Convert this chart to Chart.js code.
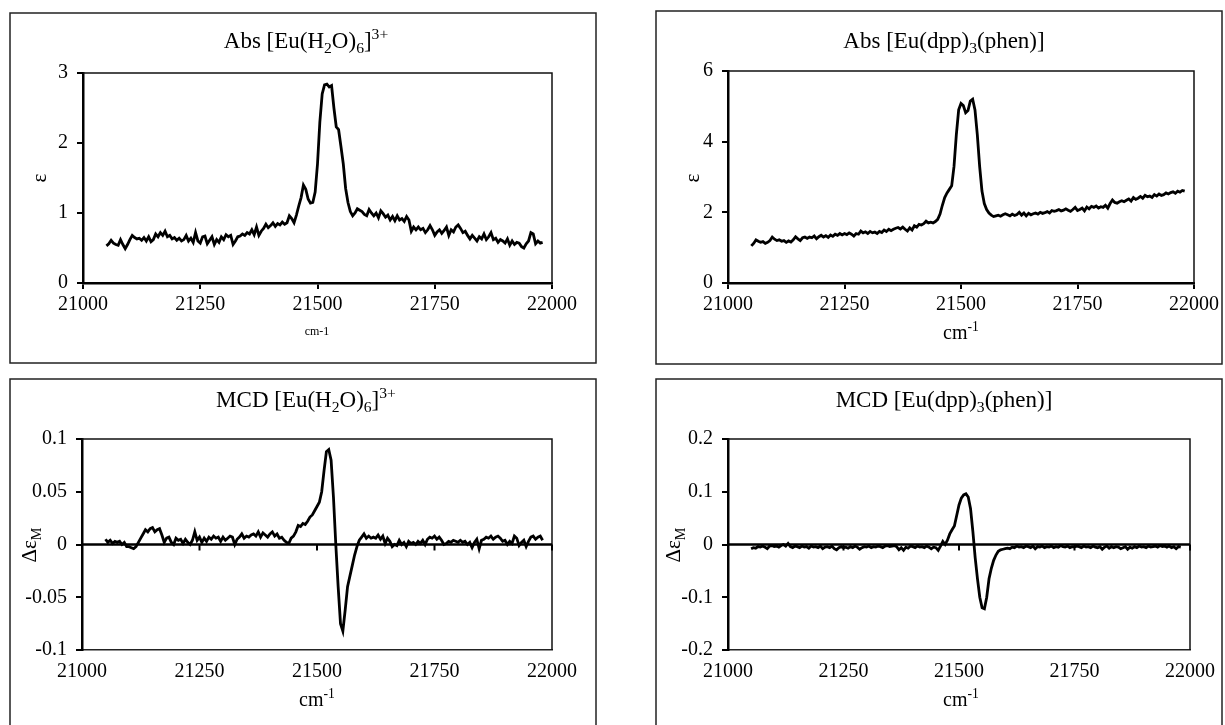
<!DOCTYPE html>
<html>
<head>
<meta charset="utf-8">
<script src="https://cdn.jsdelivr.net/npm/chart.js@4.4.1/dist/chart.umd.min.js"></script>
<style>
  html, body { margin: 0; padding: 0; background: #fff; }
  body { width: 1225px; height: 725px; position: relative; overflow: hidden; }
  canvas { position: absolute; left: 0; top: 0; }
</style>
</head>
<body>
<canvas id="absAquaChart" width="1225" height="725"></canvas>
<canvas id="absDppChart" width="1225" height="725"></canvas>
<canvas id="mcdAquaChart" width="1225" height="725"></canvas>
<canvas id="mcdDppChart" width="1225" height="725"></canvas>
<script>
"use strict";

// wavenumber (cm-1), shared by all four spectra
const wavenumbers = [
  21050, 21055, 21060, 21065, 21070, 21075, 21080, 21085, 21090, 21095,
  21100, 21105, 21110, 21115, 21120, 21125, 21130, 21135, 21140, 21145,
  21150, 21155, 21160, 21165, 21170, 21175, 21180, 21185, 21190, 21195,
  21200, 21205, 21210, 21215, 21220, 21225, 21230, 21235, 21240, 21245,
  21250, 21255, 21260, 21265, 21270, 21275, 21280, 21285, 21290, 21295,
  21300, 21305, 21310, 21315, 21320, 21325, 21330, 21335, 21340, 21345,
  21350, 21355, 21360, 21365, 21370, 21375, 21380, 21385, 21390, 21395,
  21400, 21405, 21410, 21415, 21420, 21425, 21430, 21435, 21440, 21445,
  21450, 21455, 21460, 21465, 21470, 21475, 21480, 21485, 21490, 21495,
  21500, 21505, 21510, 21515, 21520, 21525, 21530, 21535, 21540, 21545,
  21550, 21555, 21560, 21565, 21570, 21575, 21580, 21585, 21590, 21595,
  21600, 21605, 21610, 21615, 21620, 21625, 21630, 21635, 21640, 21645,
  21650, 21655, 21660, 21665, 21670, 21675, 21680, 21685, 21690, 21695,
  21700, 21705, 21710, 21715, 21720, 21725, 21730, 21735, 21740, 21745,
  21750, 21755, 21760, 21765, 21770, 21775, 21780, 21785, 21790, 21795,
  21800, 21805, 21810, 21815, 21820, 21825, 21830, 21835, 21840, 21845,
  21850, 21855, 21860, 21865, 21870, 21875, 21880, 21885, 21890, 21895,
  21900, 21905, 21910, 21915, 21920, 21925, 21930, 21935, 21940, 21945,
  21950, 21955, 21960, 21965, 21970, 21975, 21980
];

// Abs [Eu(H2O)6]3+  (epsilon)
const absAqua = [
  0.53, 0.56, 0.61, 0.57, 0.55, 0.54, 0.62, 0.55, 0.49, 0.55,
  0.62, 0.68, 0.65, 0.63, 0.64, 0.61, 0.65, 0.60, 0.66, 0.59,
  0.62, 0.70, 0.66, 0.72, 0.68, 0.74, 0.66, 0.68, 0.63, 0.65,
  0.61, 0.64, 0.60, 0.62, 0.68, 0.60, 0.64, 0.58, 0.72, 0.60,
  0.57, 0.66, 0.67, 0.56, 0.61, 0.66, 0.55, 0.62, 0.58, 0.66,
  0.62, 0.69, 0.66, 0.68, 0.55, 0.60, 0.66, 0.67, 0.70, 0.68,
  0.72, 0.70, 0.76, 0.69, 0.80, 0.68, 0.74, 0.78, 0.84, 0.79,
  0.82, 0.86, 0.81, 0.85, 0.83, 0.87, 0.84, 0.86, 0.96, 0.92,
  0.86, 0.97, 1.10, 1.22, 1.40, 1.34, 1.20, 1.14, 1.15, 1.30,
  1.70, 2.30, 2.70, 2.83, 2.84, 2.80, 2.82, 2.50, 2.23, 2.19,
  1.95, 1.70, 1.35, 1.15, 1.02, 0.96, 1.00, 1.06, 1.04, 1.02,
  0.98, 0.96, 1.05, 1.00, 0.96, 1.00, 0.93, 1.03, 0.99, 0.94,
  0.97, 0.90, 0.95, 0.89, 0.96, 0.90, 0.92, 0.88, 0.95, 0.90,
  0.74, 0.80, 0.76, 0.80, 0.76, 0.78, 0.72, 0.76, 0.82, 0.76,
  0.68, 0.73, 0.76, 0.71, 0.75, 0.80, 0.68, 0.76, 0.73, 0.80,
  0.83, 0.78, 0.72, 0.74, 0.68, 0.63, 0.68, 0.64, 0.60, 0.66,
  0.63, 0.70, 0.62, 0.66, 0.72, 0.62, 0.64, 0.58, 0.62, 0.60,
  0.57, 0.63, 0.54, 0.60, 0.55, 0.58, 0.57, 0.52, 0.50, 0.56,
  0.60, 0.72, 0.70, 0.56, 0.60, 0.57, 0.58
];

// Abs [Eu(dpp)3(phen)]  (epsilon)
const absDpp = [
  1.05, 1.12, 1.22, 1.18, 1.15, 1.17, 1.12, 1.15, 1.20, 1.30,
  1.24, 1.20, 1.22, 1.18, 1.20, 1.15, 1.19, 1.16, 1.22, 1.31,
  1.25, 1.20, 1.28, 1.30, 1.26, 1.30, 1.28, 1.33, 1.25, 1.31,
  1.35, 1.30, 1.34, 1.29, 1.36, 1.32, 1.38, 1.35, 1.40, 1.36,
  1.40, 1.37, 1.42, 1.38, 1.33, 1.40, 1.38, 1.47, 1.42, 1.45,
  1.40, 1.46, 1.42, 1.44, 1.40, 1.46, 1.43, 1.50, 1.46, 1.52,
  1.48, 1.52, 1.55, 1.57, 1.53, 1.58, 1.52, 1.47, 1.56, 1.50,
  1.62, 1.58, 1.66, 1.64, 1.68, 1.75, 1.70, 1.72, 1.70, 1.74,
  1.80, 1.95, 2.20, 2.42, 2.55, 2.65, 2.75, 3.30, 4.20, 4.90,
  5.08, 5.02, 4.82, 4.88, 5.15, 5.20, 4.90, 4.20, 3.30, 2.60,
  2.25, 2.08, 1.98, 1.92, 1.88, 1.90, 1.92, 1.89, 1.93, 1.96,
  1.93, 1.90, 1.95, 1.91, 1.94, 2.00, 1.92, 1.98, 1.90, 1.97,
  1.93, 1.96, 1.98, 1.95, 2.00, 1.97, 1.99, 2.02, 1.98, 2.05,
  2.03, 2.05, 2.08, 2.04, 2.06, 2.10, 2.06, 2.03, 2.08, 2.14,
  2.05, 2.08, 2.12, 2.04, 2.15, 2.10, 2.17, 2.14, 2.18, 2.12,
  2.16, 2.14, 2.20, 2.12, 2.25, 2.35, 2.28, 2.26, 2.30, 2.33,
  2.30, 2.34, 2.38, 2.32, 2.42, 2.37, 2.40, 2.45, 2.40, 2.48,
  2.44, 2.46, 2.42, 2.50, 2.46, 2.52, 2.48, 2.50, 2.55, 2.52,
  2.56, 2.58, 2.54, 2.60, 2.57, 2.62, 2.60
];

// MCD [Eu(H2O)6]3+  (delta epsilon M)
const mcdAqua = [
  0.005, 0.002, 0.004, 0.001, 0.003, 0.002, 0.003, 0.000, 0.002, -0.002,
  -0.002, -0.003, -0.004, -0.002, 0.002, 0.006, 0.010, 0.014, 0.012, 0.015,
  0.016, 0.012, 0.014, 0.015, 0.009, 0.002, 0.006, 0.007, 0.002, 0.000,
  0.006, 0.004, 0.005, 0.001, 0.005, 0.002, 0.000, 0.004, 0.012, 0.004,
  0.007, 0.002, 0.006, 0.003, 0.007, 0.005, 0.008, 0.006, 0.007, 0.003,
  0.007, 0.004, 0.006, 0.008, 0.007, 0.000, 0.005, 0.007, 0.010, 0.006,
  0.008, 0.007, 0.009, 0.010, 0.008, 0.012, 0.007, 0.011, 0.009, 0.007,
  0.010, 0.012, 0.008, 0.010, 0.006, 0.007, 0.004, 0.002, 0.001, 0.006,
  0.008, 0.012, 0.018, 0.017, 0.020, 0.019, 0.022, 0.026, 0.028, 0.032,
  0.036, 0.040, 0.050, 0.070, 0.088, 0.090, 0.080, 0.045, 0.000, -0.040,
  -0.075, -0.082, -0.062, -0.040, -0.030, -0.020, -0.010, -0.002, 0.004, 0.007,
  0.010, 0.006, 0.008, 0.006, 0.007, 0.006, 0.009, 0.005, 0.008, 0.001,
  0.006, 0.003, -0.002, 0.000, -0.001, 0.004, 0.000, 0.002, -0.002, 0.003,
  0.001, 0.002, 0.000, 0.003, 0.001, 0.004, 0.000, 0.005, 0.007, 0.006,
  0.008, 0.005, 0.007, 0.004, 0.000, 0.001, 0.003, 0.002, 0.004, 0.003,
  0.002, 0.004, 0.002, 0.003, 0.000, 0.002, -0.003, 0.002, 0.005, -0.004,
  0.004, 0.005, 0.007, 0.006, 0.008, 0.005, 0.007, 0.008, 0.006, 0.003,
  0.004, 0.000, 0.003, 0.001, 0.008, 0.006, -0.001, 0.002, 0.004, -0.002,
  0.003, 0.007, 0.008, 0.005, 0.007, 0.008, 0.004
];

// MCD [Eu(dpp)3(phen)]  (delta epsilon M)
const mcdDpp = [
  -0.008, -0.006, -0.007, -0.004, -0.005, -0.003, -0.005, -0.008, -0.003, -0.002,
  -0.004, -0.003, -0.005, -0.002, 0.000, -0.003, 0.002, -0.004, -0.006, -0.003,
  -0.004, -0.006, -0.003, -0.005, -0.004, -0.007, -0.003, -0.005, -0.004, -0.006,
  -0.003, -0.008, -0.005, -0.004, -0.006, -0.003, -0.008, -0.010, -0.006, -0.004,
  -0.006, -0.005, -0.007, -0.004, -0.006, -0.003, -0.005, -0.009, -0.006, -0.004,
  -0.005, -0.003, -0.006, -0.004, -0.005, -0.003, -0.004, -0.006, -0.003, -0.002,
  -0.004, -0.003, -0.002, -0.004, -0.010, -0.006, -0.011, -0.005, -0.007, -0.003,
  -0.004, -0.006, -0.003, -0.005, -0.004, -0.006, -0.003, -0.005, -0.008, -0.005,
  -0.006, -0.011, -0.003, 0.006, 0.000, 0.008, 0.020, 0.028, 0.035, 0.055,
  0.075, 0.088, 0.094, 0.096, 0.090, 0.068, 0.025, -0.025, -0.065, -0.100,
  -0.120, -0.122, -0.100, -0.065, -0.045, -0.030, -0.020, -0.013, -0.010, -0.009,
  -0.008, -0.007, -0.008, -0.005, -0.006, -0.003, -0.005, -0.004, -0.006, -0.003,
  -0.004, -0.006, -0.003, -0.008, -0.004, -0.005, -0.003, -0.006, -0.004, -0.005,
  -0.003, -0.006, -0.004, -0.005, -0.002, -0.004, -0.005, -0.003, -0.006, -0.004,
  -0.005, -0.003, -0.004, -0.006, -0.003, -0.005, -0.004, -0.006, -0.003, -0.005,
  -0.006, -0.004, -0.009, -0.005, -0.003, -0.007, -0.004, -0.006, -0.004, -0.005,
  -0.008, -0.006, -0.004, -0.009, -0.005, -0.007, -0.004, -0.006, -0.003, -0.005,
  -0.004, -0.006, -0.003, -0.005, -0.004, -0.003, -0.005, -0.002, -0.004, -0.003,
  -0.005, -0.003, -0.006, -0.004, -0.008, -0.004, -0.005
];

const xTicks = [21000, 21250, 21500, 21750, 22000];
const absAquaTicks = [0, 1, 2, 3];
const absDppTicks = [0, 2, 4, 6];
const mcdAquaTicks = [-0.1, -0.05, 0, 0.05, 0.1];
const mcdDppTicks = [-0.2, -0.1, 0, 0.1, 0.2];

// text pieces: [text, 0 normal | -1 subscript | 1 superscript]
const absAquaTitle = [["Abs [Eu(H", 0], ["2", -1], ["O)", 0], ["6", -1], ["]", 0], ["3+", 1]];
const absDppTitle = [["Abs [Eu(dpp)", 0], ["3", -1], ["(phen)]", 0]];
const mcdAquaTitle = [["MCD [Eu(H", 0], ["2", -1], ["O)", 0], ["6", -1], ["]", 0], ["3+", 1]];
const mcdDppTitle = [["MCD [Eu(dpp)", 0], ["3", -1], ["(phen)]", 0]];
const epsLabel = [["\u03b5", 0]];
const dEpsLabel = [["\u0394\u03b5", 0], ["M", -1]];
const cmPlain = [["cm-1", 0]];
const cmSup = [["cm", 0], ["-1", 1]];

const FONT = '"Liberation Serif", "Times New Roman", serif';

const drawRich = function (ctx, parts, x, y, size, rotate) {
  const fontFor = (s) => (s ? size * 0.68 : size) + "px " + FONT;
  ctx.save();
  ctx.translate(x, y);
  if (rotate) ctx.rotate(-Math.PI / 2);
  let w = 0;
  parts.forEach((p) => {
    ctx.font = fontFor(p[1]);
    w += ctx.measureText(p[0]).width;
  });
  let cx = -w / 2;
  ctx.fillStyle = "#000";
  ctx.textAlign = "left";
  ctx.textBaseline = "alphabetic";
  parts.forEach((p) => {
    ctx.font = fontFor(p[1]);
    const dy = p[1] === -1 ? size * 0.22 : p[1] === 1 ? -size * 0.38 : 0;
    ctx.fillText(p[0], cx, dy);
    cx += ctx.measureText(p[0]).width;
  });
  ctx.restore();
};

const makePanel = function (id, series, yTicks, p) {
  const mcd = p.zeroLine;
  new Chart(id, {
    type: "line",
    data: {
      datasets: [
        {
          data: wavenumbers.map((x, i) => ({ x: x, y: series[i] })),
          borderColor: "#000",
          borderWidth: 2.8,
          pointRadius: 0,
          tension: 0,
          fill: false,
        },
      ],
    },
    options: {
      responsive: false,
      animation: false,
      events: [],
      layout: {
        padding: {
          left: p.plot[0] - 60,
          top: p.plot[1],
          right: 1225 - p.plot[2],
          bottom: 725 - p.plot[3] - 40,
        },
      },
      plugins: {
        legend: { display: false },
        tooltip: { enabled: false },
      },
      scales: {
        x: {
          type: "linear",
          min: 21000,
          max: 22000,
          afterBuildTicks: (s) => {
            s.ticks = xTicks.map((v) => ({ value: v }));
          },
          afterFit: (s) => {
            s.height = 40;
          },
          ticks: {
            color: "#000",
            font: { family: FONT, size: 20 },
            padding: mcd ? 10 : 4,
            maxRotation: 0,
            callback: (v) => String(v),
          },
          grid: mcd
            ? { display: false, drawTicks: false }
            : { drawOnChartArea: false, drawTicks: true, tickLength: 6, color: "#000", lineWidth: 2 },
          border: mcd
            ? { display: true, width: 1.5, color: "#222" }
            : { display: true, width: 2.5, color: "#000" },
        },
        y: {
          min: yTicks[0],
          max: yTicks[yTicks.length - 1],
          afterBuildTicks: (s) => {
            s.ticks = yTicks.map((v) => ({ value: v }));
          },
          afterFit: (s) => {
            s.width = 60;
          },
          ticks: {
            color: "#000",
            font: { family: FONT, size: 20 },
            padding: 9,
            callback: (v) => String(Number(v.toFixed(3))),
          },
          grid: { drawOnChartArea: false, drawTicks: true, tickLength: 6, color: "#000", lineWidth: 2 },
          border: { display: true, width: 2.5, color: "#000" },
        },
      },
    },
    plugins: [
      {
        id: "panelDecor",
        afterDraw(chart) {
          const ctx = chart.ctx;
          const a = chart.chartArea;
          ctx.save();
          // outer chart box
          ctx.strokeStyle = "#222";
          ctx.lineWidth = 1.5;
          ctx.strokeRect(p.box[0], p.box[1], p.box[2], p.box[3]);
          // plot frame top / right
          ctx.strokeStyle = "#111";
          ctx.beginPath();
          ctx.moveTo(a.left, a.top);
          ctx.lineTo(a.right, a.top);
          ctx.lineTo(a.right, a.bottom);
          ctx.stroke();
          if (mcd) {
            const y0 = chart.scales.y.getPixelForValue(0);
            ctx.strokeStyle = "#000";
            ctx.lineWidth = 2.5;
            ctx.beginPath();
            ctx.moveTo(a.left, y0);
            ctx.lineTo(a.right, y0);
            ctx.stroke();
            ctx.lineWidth = 2;
            xTicks.forEach((v) => {
              const px = chart.scales.x.getPixelForValue(v);
              ctx.beginPath();
              ctx.moveTo(px, y0);
              ctx.lineTo(px, y0 + 6);
              ctx.stroke();
            });
          }
          ctx.restore();
          drawRich(ctx, p.title, p.titlePos[0], p.titlePos[1], 23, false);
          drawRich(ctx, p.xLabel, p.xLabelPos[0], p.xLabelPos[1], p.xLabelSize, false);
          drawRich(ctx, p.yLabel, p.yLabelPos[0], p.yLabelPos[1], 21, true);
        },
      },
    ],
  });
};

makePanel("absAquaChart", absAqua, absAquaTicks, {
  plot: [83, 73, 552, 283],
  box: [10, 13, 586, 350],
  title: absAquaTitle, titlePos: [306, 48],
  xLabel: cmPlain, xLabelPos: [317, 335], xLabelSize: 12,
  yLabel: epsLabel, yLabelPos: [46, 178],
  zeroLine: false,
});

makePanel("absDppChart", absDpp, absDppTicks, {
  plot: [728, 71, 1194, 283],
  box: [656, 11, 566, 353],
  title: absDppTitle, titlePos: [944, 48],
  xLabel: cmSup, xLabelPos: [961, 339], xLabelSize: 20,
  yLabel: epsLabel, yLabelPos: [699, 178],
  zeroLine: false,
});

makePanel("mcdAquaChart", mcdAqua, mcdAquaTicks, {
  plot: [82, 439, 552, 650],
  box: [10, 379, 586, 360],
  title: mcdAquaTitle, titlePos: [306, 407],
  xLabel: cmSup, xLabelPos: [317, 706], xLabelSize: 20,
  yLabel: dEpsLabel, yLabelPos: [36, 545],
  zeroLine: true,
});

makePanel("mcdDppChart", mcdDpp, mcdDppTicks, {
  plot: [728, 439, 1194, 650],
  box: [656, 379, 566, 360],
  title: mcdDppTitle, titlePos: [944, 407],
  xLabel: cmSup, xLabelPos: [961, 706], xLabelSize: 20,
  yLabel: dEpsLabel, yLabelPos: [680, 545],
  zeroLine: true,
});
</script>
</body>
</html>
